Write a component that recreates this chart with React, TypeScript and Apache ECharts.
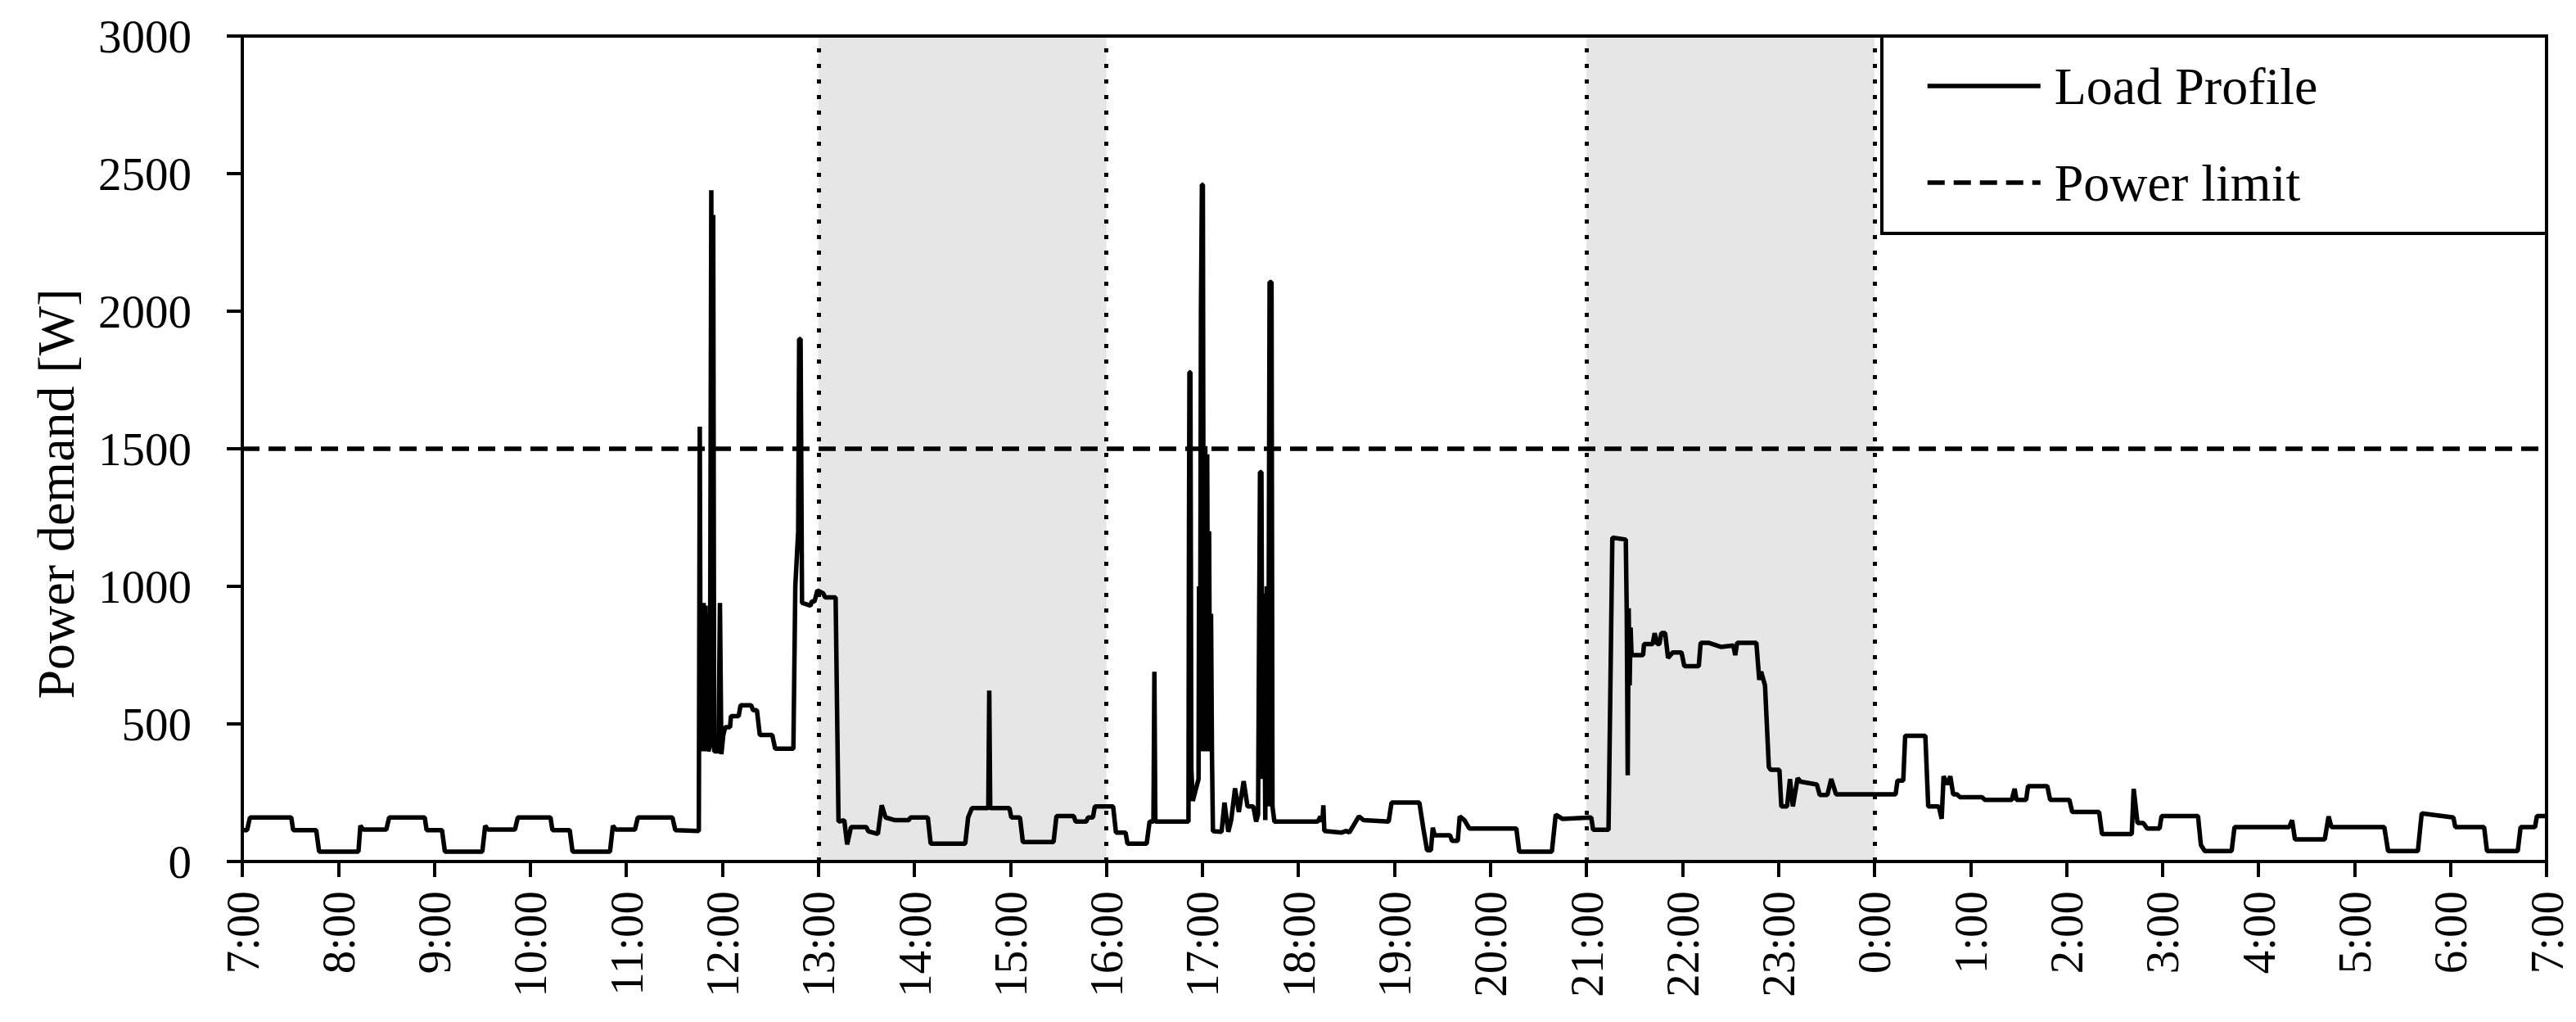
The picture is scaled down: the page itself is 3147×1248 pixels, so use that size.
import React, { useEffect, useRef } from "react";
import * as echarts from "echarts";

const FONT = "'Liberation Serif', 'Times New Roman', serif";

// x values are hours after 7:00
const hourTickLabels = [
  "7:00", "8:00", "9:00", "10:00", "11:00", "12:00", "13:00", "14:00", "15:00",
  "16:00", "17:00", "18:00", "19:00", "20:00", "21:00", "22:00", "23:00", "0:00",
  "1:00", "2:00", "3:00", "4:00", "5:00", "6:00", "7:00",
];

const powerLimit = 1500;
const shadedPeriods: [number, number][] = [[6, 9], [14, 17]];
const periodBoundaries = [6, 9, 14, 17];

const loadPoints: [number, number][] = [
  [0.00,114],[0.05,114],[0.08,160],[0.51,160],[0.53,114],[0.77,114],[0.80,36],[1.21,36],
  [1.23,130],[1.26,116],[1.50,116],[1.53,160],[1.90,160],[1.92,114],[2.08,114],[2.11,36],
  [2.50,36],[2.53,130],[2.56,116],[2.84,116],[2.87,160],[3.21,160],[3.23,114],[3.41,114],
  [3.44,36],[3.83,36],[3.86,130],[3.89,116],[4.09,116],[4.12,160],[4.48,160],[4.51,114],
  [4.755,111],[4.765,1580],[4.775,400],[4.785,920],[4.795,410],[4.805,940],[4.815,400],
  [4.825,930],[4.835,410],[4.845,900],[4.855,400],[4.870,420],[4.885,2440],[4.895,420],
  [4.905,2350],[4.915,400],[4.94,400],[4.96,400],[4.975,940],[4.99,390],[5.01,460],
  [5.03,488],[5.08,488],[5.09,528],[5.17,528],[5.19,568],[5.30,568],[5.32,550],[5.36,550],
  [5.39,460],[5.52,460],[5.55,410],[5.74,410],[5.76,1000],[5.79,1200],[5.80,1899],
  [5.815,1899],[5.83,940],[5.92,930],[5.93,945],[5.96,945],[5.99,985],[6.05,975],
  [6.07,960],[6.18,960],[6.21,145],[6.27,150],[6.30,62],[6.34,125],[6.50,125],[6.52,110],
  [6.62,100],[6.66,204],[6.70,160],[6.80,150],[6.94,150],[6.96,160],[7.14,160],[7.17,65],
  [7.53,65],[7.56,160],[7.60,194],[7.77,194],[7.78,621],[7.79,194],[7.99,194],[8.01,160],
  [8.10,160],[8.13,71],[8.45,71],[8.48,165],[8.66,165],[8.68,145],[8.79,145],[8.81,160],
  [8.86,160],[8.88,200],[9.07,200],[9.10,105],[9.20,105],[9.22,65],[9.42,65],[9.45,145],
  [9.49,145],[9.50,690],[9.51,145],[9.855,145],[9.86,1150],[9.865,1778],[9.875,1778],
  [9.88,1100],[9.885,336],[9.90,220],[9.93,260],[9.96,300],[9.965,1000],[9.975,400],
  [9.985,2000],[9.995,2460],[10.005,2460],[10.015,400],[10.03,1510],[10.04,420],
  [10.05,1480],[10.06,400],[10.07,1200],[10.08,400],[10.09,900],[10.10,380],[10.11,110],
  [10.20,108],[10.23,214],[10.27,108],[10.30,150],[10.34,266],[10.38,180],[10.43,292],
  [10.47,200],[10.53,200],[10.56,145],[10.58,170],[10.60,1415],[10.615,1415],[10.625,300],
  [10.64,974],[10.655,150],[10.67,1000],[10.685,200],[10.70,2106],[10.72,2106],[10.73,200],
  [10.75,145],[11.20,145],[11.23,163],[11.25,145],[11.26,204],[11.27,111],[11.45,105],
  [11.50,111],[11.53,105],[11.63,164],[11.68,150],[11.94,145],[11.97,214],[12.26,214],
  [12.30,123],[12.34,41],[12.38,41],[12.40,123],[12.42,95],[12.58,95],[12.60,75],[12.66,75],
  [12.68,164],[12.73,150],[12.78,120],[13.27,120],[13.30,36],[13.64,36],[13.68,170],
  [13.75,155],[14.05,160],[14.07,115],[14.23,115],[14.27,1177],[14.41,1170],[14.42,900],
  [14.43,313],[14.44,920],[14.45,640],[14.46,850],[14.47,750],[14.59,750],[14.60,790],
  [14.69,790],[14.71,830],[14.74,790],[14.76,790],[14.78,830],[14.82,830],[14.85,740],
  [14.90,760],[14.99,760],[15.02,710],[15.17,710],[15.19,795],[15.27,795],[15.40,780],
  [15.53,785],[15.55,750],[15.57,795],[15.77,795],[15.80,660],[15.82,690],[15.86,640],
  [15.90,343],[15.92,333],[16.01,333],[16.03,200],[16.09,200],[16.12,300],[16.15,200],
  [16.20,303],[16.23,290],[16.40,280],[16.43,242],[16.51,242],[16.55,300],[16.60,244],
  [17.22,244],[17.24,294],[17.30,294],[17.32,457],[17.53,457],[17.56,200],[17.67,200],
  [17.70,155],[17.72,310],[17.76,280],[17.79,310],[17.82,244],[17.86,244],[17.89,234],
  [18.12,234],[18.15,224],[18.43,224],[18.46,264],[18.48,224],[18.58,224],[18.60,274],
  [18.80,274],[18.83,224],[19.03,224],[19.06,180],[19.34,180],[19.37,100],[19.68,100],
  [19.70,264],[19.74,140],[19.80,140],[19.84,120],[19.97,120],[19.99,165],[20.37,165],
  [20.40,60],[20.44,38],[20.72,38],[20.75,125],[21.32,125],[21.35,150],[21.38,80],
  [21.69,80],[21.73,164],[21.76,125],[22.31,125],[22.35,38],[22.66,38],[22.70,175],
  [23.03,160],[23.05,125],[23.35,125],[23.38,38],[23.70,38],[23.73,125],[23.88,125],
  [23.90,165],[24.00,165],
];

const GRID = { left: 296, right: 36, top: 44, bottom: 196 };
const W = 3147;
const H = 1248;

export default function App() {
  const ref = useRef<HTMLDivElement>(null);
  useEffect(() => {
    document.body.style.margin = "0";
    const chart = echarts.init(ref.current!, null, { renderer: "svg" });
    const plotW = W - GRID.left - GRID.right;
    const plotH = H - GRID.top - GRID.bottom;
    chart.setOption({
      animation: false,
      backgroundColor: "#ffffff",
      grid: { ...GRID, show: false },
      xAxis: {
        type: "value",
        min: 0,
        max: 24,
        interval: 1,
        axisLine: { show: true, onZero: false, lineStyle: { color: "#000", width: 4 } },
        axisTick: { show: true, length: 19, lineStyle: { color: "#000", width: 4 } },
        axisLabel: {
          rotate: 90,
          margin: 36,
          fontSize: 57,
          fontFamily: FONT,
          color: "#000",
          formatter: (v: number) => hourTickLabels[Math.round(v)] ?? "",
        },
        splitLine: { show: false },
      },
      yAxis: {
        type: "value",
        min: 0,
        max: 3000,
        interval: 500,
        axisLine: { show: true, lineStyle: { color: "#000", width: 4 } },
        axisTick: { show: true, length: 19, lineStyle: { color: "#000", width: 4 } },
        axisLabel: {
          margin: 62,
          fontSize: 57,
          fontFamily: FONT,
          color: "#000",
          formatter: (v: number) => String(v),
        },
        splitLine: { show: false },
      },
      legend: {
        data: ["Load Profile", "Power limit"],
        orient: "vertical",
        left: 2352,
        top: 73,
        padding: 0,
        itemWidth: 138,
        itemHeight: 64,
        itemGap: 54,
        z: 110,
        itemStyle: { opacity: 0, borderWidth: 0 },
        lineStyle: { width: 5.5 },
        textStyle: { fontSize: 64, fontFamily: FONT, color: "#000", padding: [0, 0, 0, 12] },
      },
      graphic: [
        {
          type: "rect",
          z: 100,
          silent: true,
          shape: { x: GRID.left, y: GRID.top, width: plotW, height: plotH },
          style: { fill: "none", stroke: "#000", lineWidth: 4 },
        },
        {
          type: "rect",
          z: 100,
          silent: true,
          shape: { x: 2299, y: GRID.top, width: W - GRID.right - 2299, height: 241 },
          style: { fill: "#fff", stroke: "#000", lineWidth: 4 },
        },
        {
          type: "text",
          x: 68,
          y: 603,
          rotation: Math.PI / 2,
          silent: true,
          style: {
            text: "Power demand [W]",
            fontSize: 64,
            fontFamily: FONT,
            fill: "#000",
            align: "center",
            verticalAlign: "middle",
          },
        },
      ],
      series: [
        {
          name: "shade",
          type: "line",
          data: [],
          z: 1,
          silent: true,
          markArea: {
            silent: true,
            itemStyle: { color: "#e6e6e6" },
            data: shadedPeriods.map(([a, b]) => [{ xAxis: a }, { xAxis: b }]),
          },
          markLine: {
            silent: true,
            symbol: "none",
            label: { show: false },
            lineStyle: { color: "#000", width: 5, type: [5, 14] },
            data: periodBoundaries.map((x) => ({ xAxis: x })),
          },
        },
        {
          name: "Load Profile",
          type: "line",
          data: loadPoints,
          symbol: "none",
          showSymbol: false,
          z: 3,
          lineStyle: { color: "#000", width: 5.5 },
          itemStyle: { color: "#000" },
        },
        {
          name: "Power limit",
          type: "line",
          data: [[0, powerLimit], [24, powerLimit]],
          symbol: "none",
          showSymbol: false,
          z: 2,
          lineStyle: { color: "#000", width: 5.5, type: [21, 11] },
          itemStyle: { color: "#000" },
        },
      ],
    });
    return () => chart.dispose();
  }, []);
  return <div ref={ref} style={{ width: W, height: H }} />;
}
